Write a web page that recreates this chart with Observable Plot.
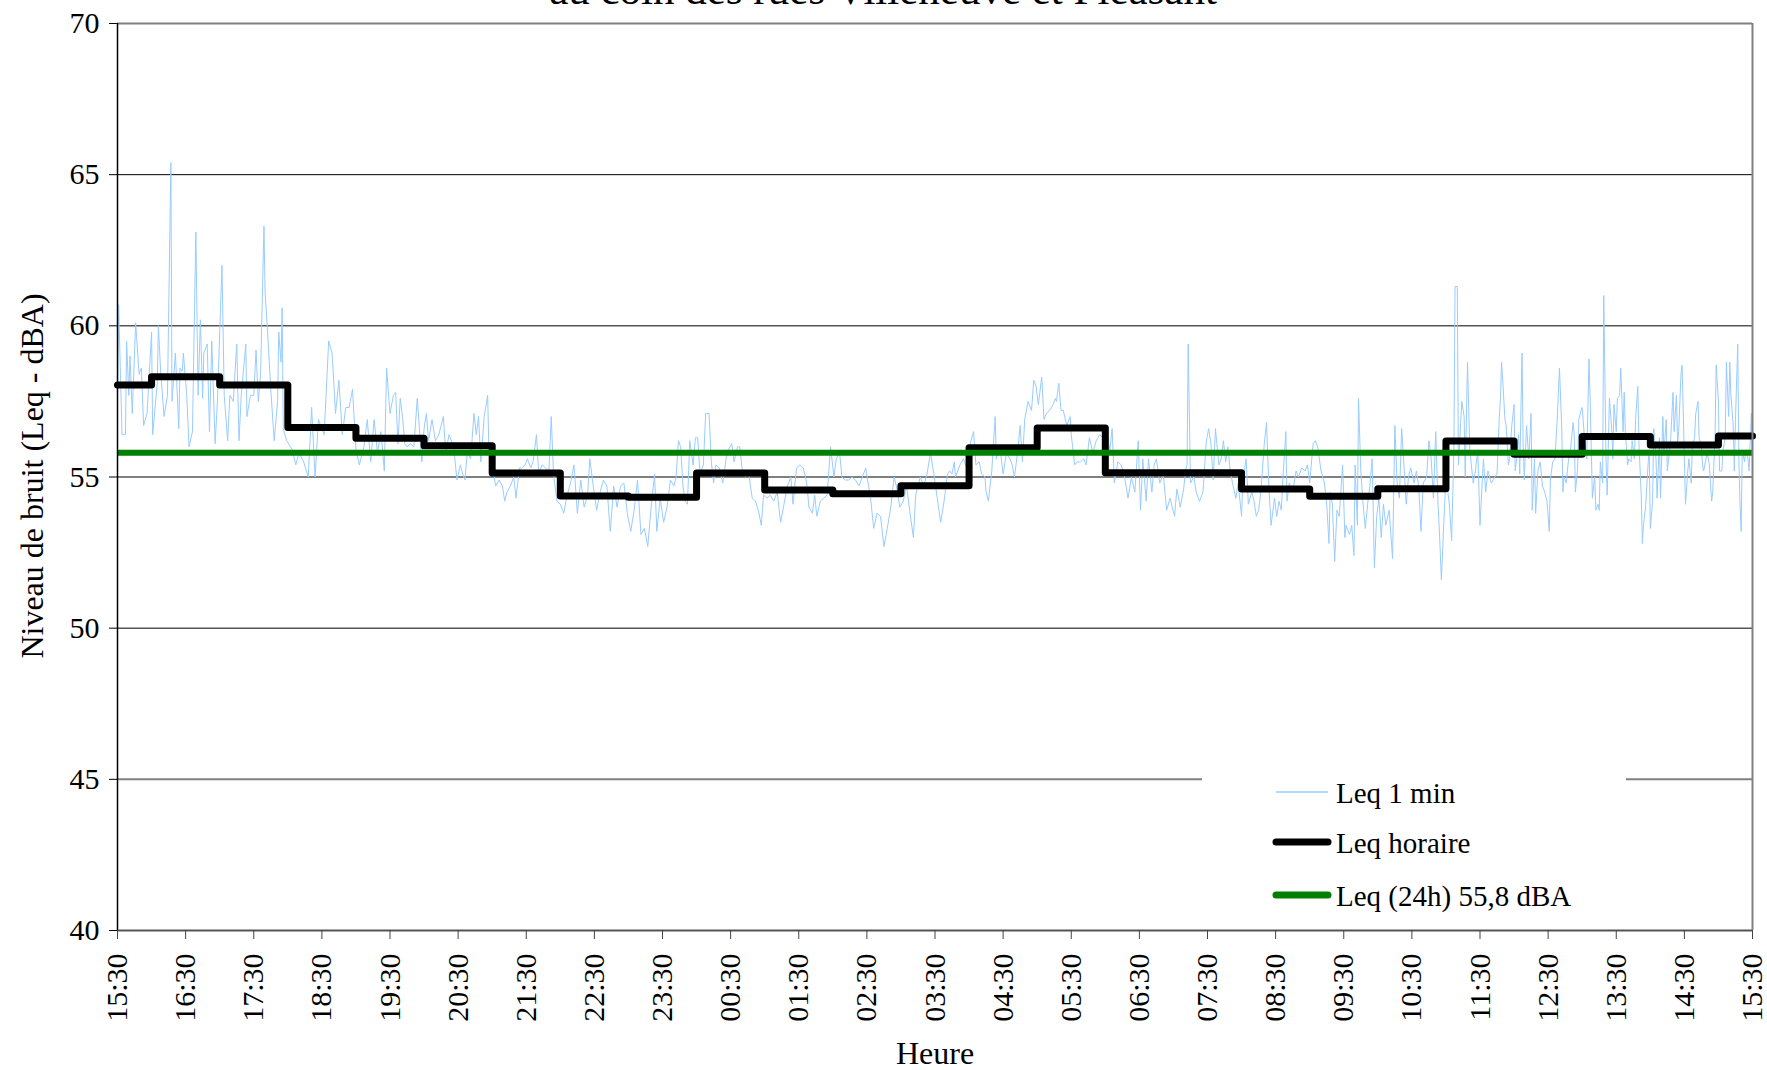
<!DOCTYPE html>
<html><head><meta charset="utf-8">
<script src="https://cdn.jsdelivr.net/npm/d3@7"></script>
<script src="https://cdn.jsdelivr.net/npm/@observablehq/plot@0.6"></script>
<style>
body{margin:0;background:#fff;}
#chart{position:relative;width:1767px;height:1070px;overflow:hidden;}
#chart svg, #chart svg text{font-family:'Liberation Serif', 'Times New Roman', serif !important;}
</style></head><body><div id="chart"></div>
<script>
const titleText = "au coin des rues Villeneuve et Pleasant";
const yLabel = "Niveau de bruit (Leq - dBA)";
const xLabel = "Heure";
const legendLabels = ["Leq 1 min", "Leq horaire", "Leq (24h) 55,8 dBA"];

// x positions are minutes after 15:30
const tickMinutes = [0,60,120,180,240,300,360,420,480,540,600,660,720,780,840,900,960,1020,1080,1140,1200,1260,1320,1380,1440];
const tickLabels = ["15:30","16:30","17:30","18:30","19:30","20:30","21:30","22:30","23:30","00:30","01:30","02:30","03:30","04:30","05:30","06:30","07:30","08:30","09:30","10:30","11:30","12:30","13:30","14:30","15:30"];
const yTicks = [40,45,50,55,60,65,70];

const hourlyStartMinutes = [0,30,90,150,210,270,330,390,450,510,570,630,690,750,810,870,930,990,1050,1110,1170,1230,1290,1350,1410,1440];
const hourlyLeq = [58.04,58.32,58.04,56.64,56.28,56.03,55.13,54.37,54.33,55.13,54.57,54.45,54.71,55.97,56.62,55.14,55.14,54.60,54.36,54.61,56.19,55.75,56.34,56.06,56.36,56.36];
const leq24h = 55.8;

const leq1minPoints = [
[0,57.7],[1,60.7],[4,56.4],[7,56.4],[8,59.5],[10,57.7],[11,59.0],[13,57.1],[16,60.1],[19,58.4],[21,58.6],[23,56.7],[26,57.1],[30,59.8],[31,56.4],[35,58.1],[36,60.0],[38,58.5],[41,57.0],[44,57.7],[47,65.4],[48,57.5],[51,59.1],[54,56.6],[55,58.6],[57,58.5],[58,59.1],[61,57.7],[63,56.0],[66,56.5],[69,63.1],[71,57.7],[73,60.2],[75,57.6],[76,59.1],[79,59.4],[81,56.5],[83,59.5],[86,56.1],[88,57.5],[92,62.0],[94,57.7],[97,56.2],[99,57.7],[102,57.5],[105,59.4],[107,56.2],[109,57.7],[113,59.4],[114,57.0],[117,57.7],[120,57.7],[122,59.2],[124,57.5],[126,58.4],[129,63.3],[130,61.1],[132,59.9],[135,57.9],[138,56.2],[141,57.5],[142,59.8],[144,58.8],[145,60.6],[146,56.6],[149,56.2],[154,55.9],[157,55.4],[160,55.8],[164,55.5],[168,55.0],[171,57.3],[174,55.0],[177,56.9],[182,56.4],[186,59.5],[189,59.1],[192,57.1],[195,58.2],[198,56.4],[201,57.3],[204,57.3],[207,57.9],[210,55.9],[213,55.4],[217,56.0],[220,56.9],[223,55.5],[226,56.9],[229,55.8],[232,56.5],[235,55.2],[237,58.6],[240,57.1],[243,57.7],
[245,57.8],[247,56.1],[249,57.6],[251,57.0],[253,56.1],[255,56.0],[258,56.1],[261,56.0],[264,57.6],[268,55.5],[270,56.6],[272,57.1],[274,56.2],[277,56.9],[280,56.2],[283,56.4],[287,57.0],[289,55.8],[292,56.4],[296,56.0],[299,54.9],[302,55.4],[304,55.1],[306,54.9],[308,55.8],[311,55.6],[314,57.1],[316,56.4],[318,57.0],[320,55.5],[323,57.0],[326,57.7],[327,56.1],[330,55.5],[333,54.7],[336,54.9],[339,54.7],[341,54.2],[343,54.5],[346,54.7],[349,55.0],[351,54.3],[354,55.3],[356,55.3],[359,55.4],[361,55.6],[364,55.3],[366,55.5],[369,56.4],[371,55.1],[374,55.4],[377,55.3],[380,55.2],[382,57.0],[384,55.1],[387,54.2],[390,54.1],[393,53.8],[396,54.4],[399,54.8],[402,55.4],[405,53.8],[408,54.9],[411,54.0],[414,54.4],[416,55.6],[419,54.7],[422,53.9],[425,54.5],[428,54.9],[431,54.7],[434,53.2],[437,54.7],[440,54.0],[443,54.7],[446,54.8],[449,53.8],[452,53.2],[455,53.9],[458,54.9],[461,53.1],[464,53.3],[467,52.7],[470,54.0],[473,55.1],[475,53.2],[478,54.3],[481,53.5],[484,54.0],[487,54.9],[490,54.7],
[492,55.0],[494,56.2],[496,56.0],[498,54.7],[500,54.2],[502,54.1],[504,56.2],[507,55.4],[509,56.3],[511,56.3],[513,55.1],[516,55.4],[518,57.1],[521,57.1],[523,55.5],[525,54.8],[527,55.4],[530,55.3],[533,54.8],[536,55.6],[538,55.9],[541,56.1],[543,55.5],[546,56.0],[548,56.0],[550,55.3],[553,55.0],[556,55.1],[559,54.3],[562,54.2],[565,53.8],[567,53.4],[569,54.4],[572,54.3],[575,54.4],[578,54.2],[581,54.5],[584,53.5],[587,54.1],[590,54.7],[593,55.0],[595,54.1],[598,55.3],[601,55.4],[604,55.3],[607,54.8],[609,54.0],[612,53.8],[614,54.4],[616,53.7],[619,54.2],[622,54.3],[625,54.4],[628,56.0],[631,55.0],[633,55.6],[636,55.8],[638,55.0],[641,54.9],[644,54.9],[647,55.0],[650,54.9],[653,54.7],[656,55.0],[659,55.3],[661,54.8],[663,54.4],[666,53.3],[669,53.8],[672,53.7],[675,52.7],[678,53.3],[681,54.0],[684,55.0],[686,54.7],[689,54.0],[692,54.2],[695,54.7],[698,53.8],[701,53.0],[703,54.4],[707,55.0],[710,54.7],[713,55.1],[716,55.8],[719,55.1],[722,54.3],[725,53.5],[728,54.2],[731,55.1],
[733,55.2],[735,55.1],[737,55.5],[738,55.0],[740,55.2],[742,55.4],[745,55.6],[748,55.3],[751,56.1],[754,56.5],[756,55.4],[759,55.5],[761,55.1],[764,55.0],[765,54.5],[767,54.2],[770,55.2],[773,57.0],[774,55.6],[777,56.0],[779,55.4],[780,55.1],[783,55.8],[786,55.6],[788,55.4],[790,55.0],[793,55.9],[795,56.7],[797,55.5],[799,56.9],[802,57.5],[805,57.2],[807,58.2],[809,58.0],[811,57.4],[814,58.3],[816,56.9],[818,57.1],[821,57.2],[824,57.4],[826,57.6],[827,57.5],[829,58.1],[831,57.2],[833,57.2],[836,56.7],[839,57.0],[840,56.4],[843,55.4],[845,55.5],[848,55.5],[851,55.6],[853,55.4],[856,56.3],[859,55.8],[862,56.2],[865,56.4],[868,56.3],[871,56.5],[874,55.9],[876,56.6],[878,54.8],[881,55.5],[884,55.4],[887,55.0],[890,54.3],[893,55.0],[896,54.5],[899,56.2],[901,53.9],[903,55.6],[906,54.2],[908,55.6],[911,54.5],[913,55.4],[915,55.6],[918,54.8],[921,55.1],[924,53.9],[927,54.3],[931,53.7],[933,54.6],[936,54.0],[939,54.6],[941,55.3],[942,55.4],[943,59.4],[945,54.8],[948,55.0],[950,54.5],[953,54.2],[956,54.5],[959,56.2],[961,56.6],[963,56.1],[965,54.9],[967,56.6],[970,55.4],[972,55.6],
[974,56.2],[976,55.5],[978,56.0],[980,55.2],[982,54.8],[985,54.3],[987,54.8],[990,53.7],[991,54.8],[994,55.6],[996,54.1],[999,54.5],[1001,54.2],[1003,53.7],[1005,53.9],[1007,54.5],[1010,56.1],[1012,56.8],[1014,54.7],[1016,53.4],[1019,54.3],[1021,53.7],[1023,54.2],[1025,53.9],[1026,54.7],[1029,56.5],[1030,54.2],[1032,54.8],[1035,54.5],[1038,55.2],[1040,55.0],[1043,55.3],[1046,55.2],[1048,55.4],[1050,54.8],[1053,56.1],[1055,56.2],[1057,56.0],[1060,55.2],[1063,54.8],[1065,54.1],[1067,52.8],[1068,54.5],[1070,54.1],[1072,52.2],[1074,53.9],[1076,53.7],[1079,55.4],[1081,53.0],[1082,53.4],[1085,53.1],[1087,53.4],[1089,52.4],[1090,55.4],[1092,53.4],[1093,57.6],[1095,55.2],[1097,54.1],[1099,53.3],[1101,54.1],[1103,54.7],[1105,55.6],[1107,52.0],[1109,53.7],[1111,54.3],[1113,53.0],[1115,54.1],[1117,53.4],[1120,53.9],[1123,52.3],[1125,56.7],[1127,54.8],[1129,54.3],[1131,56.6],[1133,55.4],[1135,54.1],[1137,55.0],[1139,55.3],[1142,54.8],[1144,55.2],[1146,54.7],[1148,53.2],[1150,54.8],[1153,55.0],[1155,56.2],[1157,55.6],[1159,54.3],[1161,56.5],[1163,54.1],[1164,53.4],[1166,51.6],[1168,53.4],[1170,55.0],[1173,54.1],[1175,52.9],[1177,55.9],[1178,61.3],[1180,61.3],[1181,55.4],[1184,57.5],[1186,57.0],[1187,55.0],[1189,58.8],[1191,55.9],[1194,54.8],[1196,55.2],[1198,55.9],[1200,53.4],[1203,55.6],[1205,54.5],[1207,55.2],[1210,54.8],[1213,55.0],
[1215,55.1],[1217,57.0],[1218,57.6],[1219,58.8],[1220,58.2],[1222,56.9],[1223,56.7],[1225,55.4],[1226,55.6],[1228,56.7],[1230,57.4],[1231,55.2],[1232,55.5],[1234,56.4],[1235,55.1],[1237,59.1],[1238,56.1],[1239,54.9],[1241,56.7],[1243,55.6],[1245,57.1],[1246,53.9],[1248,55.6],[1249,53.8],[1251,55.2],[1253,55.5],[1255,54.7],[1257,54.5],[1259,54.2],[1261,53.2],[1262,54.9],[1264,55.5],[1266,55.6],[1268,56.9],[1270,58.6],[1272,56.6],[1273,54.5],[1274,55.0],[1276,54.8],[1278,55.6],[1280,56.0],[1282,56.8],[1283,56.4],[1284,54.5],[1286,55.3],[1287,56.9],[1289,57.2],[1290,57.3],[1292,56.3],[1294,55.6],[1296,58.9],[1297,57.6],[1299,54.3],[1301,55.0],[1302,53.9],[1304,54.1],[1305,53.9],[1306,55.5],[1308,54.8],[1309,61.0],[1311,55.6],[1312,54.4],[1314,57.6],[1316,56.6],[1317,55.6],[1318,57.4],[1320,56.5],[1321,57.6],[1323,57.7],[1324,58.6],[1326,56.5],[1327,57.8],[1328,56.5],[1330,55.4],[1331,55.6],[1333,55.5],[1334,56.2],[1336,55.6],[1337,56.9],[1339,58.0],[1340,56.1],[1342,54.4],[1343,52.8],[1344,53.4],[1346,54.1],[1348,55.4],[1349,55.9],[1350,53.3],[1352,54.2],[1353,56.6],[1355,55.6],[1356,54.3],[1358,56.3],[1359,54.3],[1361,57.0],[1362,55.8],[1364,56.9],[1365,55.2],[1367,55.9],[1368,56.3],[1370,57.8],[1371,56.5],[1373,57.7],[1374,56.1],[1375,56.5],[1377,58.4],[1378,58.7],[1380,55.6],[1381,54.1],[1383,55.2],[1384,55.6],[1386,54.8],[1387,56.0],[1389,56.3],[1390,57.1],[1392,57.5],[1393,56.3],[1395,56.0],[1396,55.4],[1397,55.2],[1399,55.6],[1400,55.8],[1402,55.4],[1404,54.2],[1405,54.5],[1407,56.3],[1408,58.7],[1410,57.5],[1411,55.2],[1413,55.2],[1414,55.9],[1416,56.3],[1417,58.8],[1419,57.0],[1420,58.8],[1421,57.7],[1423,56.7],[1424,55.2],[1425,56.9],[1427,59.4],[1428,55.6],[1429,54.1],[1430,53.2],[1431,55.9],[1433,55.5],[1434,55.9],[1436,55.6],[1437,55.2],[1439,57.1],[1440,55.6]
];

const FONT = "'Liberation Serif', 'Times New Roman', serif";
const stepData = hourlyStartMinutes.map((m, i) => ({m, v: hourlyLeq[i]}));

const plot = Plot.plot({
  width: 1767, height: 1070,
  marginLeft: 117, marginRight: 15, marginTop: 23, marginBottom: 140,
  style: {fontFamily: FONT, fontSize: "30px", color: "#000", background: "#fff", overflow: "hidden"},
  x: {domain: [0, 1440]},
  y: {domain: [40, 70]},
  marks: [
    Plot.ruleY([50, 55, 60, 65], {stroke: "#000", strokeWidth: 1}),
    Plot.ruleY([45], {stroke: "#808080", strokeWidth: 2}),
    Plot.line(leq1minPoints, {x: d => d[0], y: d => d[1], stroke: "#99ccff", strokeWidth: 1}),
    Plot.line(stepData, {x: "m", y: "v", curve: "step-after", stroke: "#000", strokeWidth: 7, strokeLinejoin: "round"}),
    Plot.ruleY([leq24h], {stroke: "#008000", strokeWidth: 6}),
    Plot.ruleY([70], {stroke: "#808080", strokeWidth: 2}),
    Plot.ruleX([1440], {stroke: "#808080", strokeWidth: 2}),
    Plot.ruleY([40], {stroke: "#555", strokeWidth: 2}),
    Plot.ruleX([0], {stroke: "#000", strokeWidth: 1.5}),
    Plot.axisY({ticks: yTicks, tickSize: 8, tickPadding: 10, label: null, fontSize: 30}),
    Plot.axisX({ticks: tickMinutes, tickFormat: d => tickLabels[tickMinutes.indexOf(d)], tickRotate: -90, tickSize: 9, tickPadding: 14, label: null, fontSize: 30, stroke: "#444"})
  ]
});
document.getElementById("chart").appendChild(plot);

const svg = d3.select(plot);
const addText = (txt, x, y, size, opts = {}) => {
  const t = svg.append("text").attr("x", x).attr("y", y)
    .attr("font-size", size).attr("fill", "#000").attr("text-anchor", opts.anchor || "start").text(txt);
  if (opts.rotate) t.attr("transform", `rotate(${opts.rotate},${x},${y})`);
  return t;
};
addText(titleText, 883, 4, 43, {anchor: "middle"});
addText(yLabel, 43, 476, 32, {anchor: "middle", rotate: -90});
addText(xLabel, 935, 1064, 32, {anchor: "middle"});

// legend
const lg = svg.append("g");
lg.append("rect").attr("x", 1202).attr("y", 762).attr("width", 424).attr("height", 160).attr("fill", "#fff");
const swatches = [
  {y: 792, stroke: "#99ccff", w: 1.5, cap: "butt"},
  {y: 842, stroke: "#000", w: 7, cap: "round"},
  {y: 895, stroke: "#008000", w: 7, cap: "round"}
];
swatches.forEach((s, i) => {
  lg.append("line").attr("x1", 1276).attr("x2", 1328).attr("y1", s.y).attr("y2", s.y)
    .attr("stroke", s.stroke).attr("stroke-width", s.w).attr("stroke-linecap", s.cap);
  const t = addText(legendLabels[i], 1336, s.y + 11, 29);
  lg.node().appendChild(t.node());
});
</script></body></html>
